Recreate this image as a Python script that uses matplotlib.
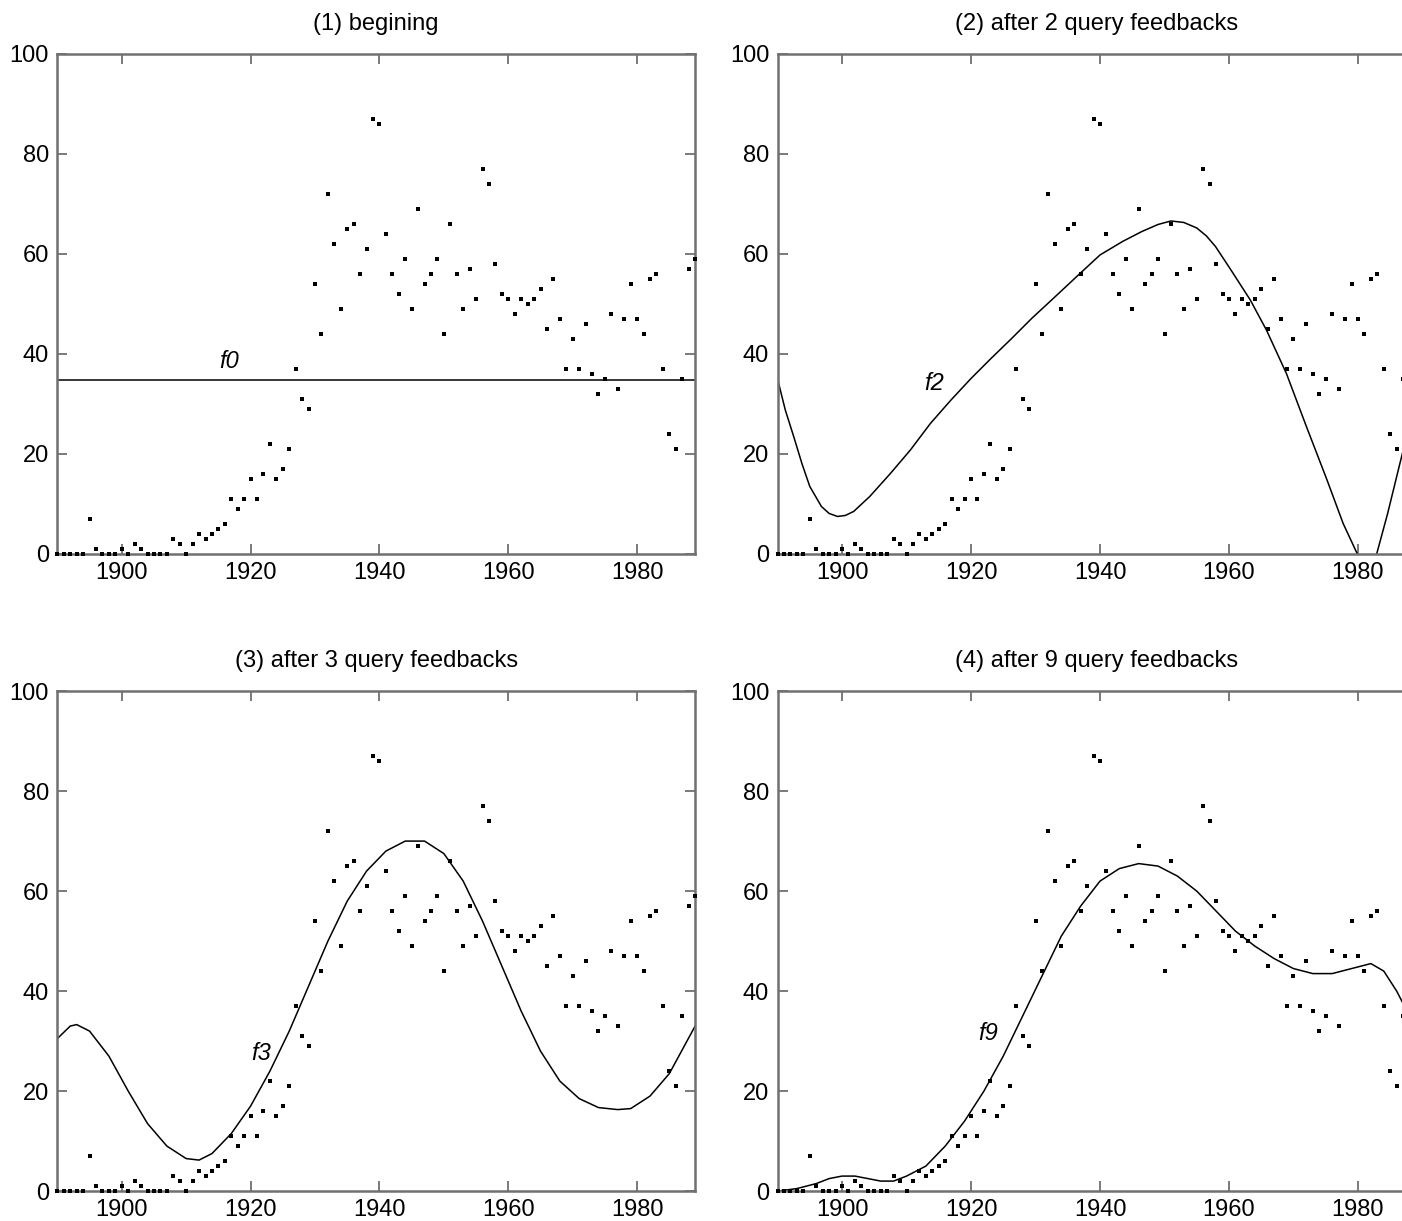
import numpy as np
import matplotlib
matplotlib.use('Agg')
import matplotlib.pyplot as plt

plt.rcParams['font.family'] = ['Liberation Sans', 'DejaVu Sans']

# 观测数据 (1890-1989)
years = list(range(1890, 1990))
values = [0, 0, 0, 0, 0, 7, 1, 0, 0, 0,
          1, 0, 2, 1, 0, 0, 0, 0, 3, 2,
          0, 2, 4, 3, 4, 5, 6, 11, 9, 11,
          15, 11, 16, 22, 15, 17, 21, 37, 31, 29,
          54, 44, 72, 62, 49, 65, 66, 56, 61, 87,
          86, 64, 56, 52, 59, 49, 69, 54, 56, 59,
          44, 66, 56, 49, 57, 51, 77, 74, 58, 52,
          51, 48, 51, 50, 51, 53, 45, 55, 47, 37,
          43, 37, 46, 36, 32, 35, 48, 33, 47, 54,
          47, 44, 55, 56, 37, 24, 21, 35, 57, 59]

# 估计曲线
f0_level = 34.7

f2_x = [1890, 1891.2, 1892.5, 1893.8, 1895, 1896.8, 1898, 1899.3, 1900.5, 1901.8, 1904.3,
        1907.5, 1910.6, 1913.7, 1916.9, 1920, 1923.1, 1926.3, 1929.4, 1932.5, 1936.9,
        1940, 1943.5, 1946.5, 1949, 1951, 1953, 1955, 1956.5, 1957.9, 1960.1, 1963.3,
        1965.8, 1968.9, 1972, 1975.2, 1977.7, 1979.9, 1981.3,
        1982.9, 1984.6, 1986.5, 1989]
f2_y = [35, 28.8, 23.5, 18, 13.5, 9.5, 8.1, 7.5, 7.7, 8.5, 11.5,
        16.1, 20.8, 26.1, 30.8, 35.1, 39.1, 43.1, 47.1, 50.8, 56.1,
        59.8, 62.5, 64.5, 65.9, 66.6, 66.3, 65.2, 63.6, 61.5, 57.2, 50.8,
        44.8, 36.1, 25.5, 14.8, 6.1, 0, -2.5,
        0, 8.1, 18.1, 31]

f3_x = [1890, 1892, 1893, 1895, 1898, 1901, 1904, 1907, 1910, 1912, 1914, 1917, 1920,
        1923, 1926, 1929, 1932, 1935, 1938, 1941, 1944, 1947, 1950, 1953, 1956, 1959,
        1962, 1965, 1968, 1971, 1974, 1977, 1979, 1982, 1985, 1989]
f3_y = [30.5, 33, 33.3, 32, 27, 20, 13.5, 9, 6.5, 6.2, 7.5, 11.5, 17,
        24, 32, 41, 50, 58, 64, 68, 70, 70, 67.5, 62, 54, 45,
        36, 28, 22, 18.5, 16.7, 16.3, 16.5, 19, 23.5, 33]

f9_x = [1890, 1893, 1896, 1898, 1900, 1902, 1904, 1906, 1908, 1910, 1913, 1916, 1919,
        1922, 1925, 1928, 1931, 1934, 1937, 1940, 1943, 1946, 1949, 1952, 1955, 1958,
        1961, 1964, 1967, 1970, 1973, 1976, 1979, 1982, 1984, 1986, 1987, 1989]
f9_y = [0, 0.5, 1.5, 2.5, 3, 3, 2.5, 2, 2, 3, 5, 9, 14,
        20, 27, 35, 43, 51, 57, 62, 64.5, 65.5, 65, 63, 60, 56,
        52, 49, 46.5, 44.5, 43.5, 43.5, 44.5, 45.5, 44, 40, 37.5, 32]

titles = ['(1) begining', '(2) after 2 query feedbacks',
          '(3) after 3 query feedbacks', '(4) after 9 query feedbacks']

fig = plt.figure(figsize=(14.02, 12.21), dpi=100)
positions = [[0.0409, 0.5463, 0.4549, 0.4095],
             [0.5546, 0.5463, 0.4554, 0.4095],
             [0.0409, 0.0245, 0.4549, 0.4095],
             [0.5546, 0.0245, 0.4554, 0.4095]]

curves = [([1890, 1989], [f0_level, f0_level], 'f0', (1916.6, 38.5)),
          (f2_x, f2_y, 'f2', (1914.3, 34)),
          (f3_x, f3_y, 'f3', (1921.7, 27.5)),
          (f9_x, f9_y, 'f9', (1922.6, 31.5))]

for i in range(4):
    ax = fig.add_axes(positions[i])
    cx, cy, name, pos = curves[i]
    ax.plot(cx, cy, color='k', lw=1.1)
    ax.plot(years, values, 's', color='k', ms=2.7, mew=0, clip_on=False, zorder=5)
    ax.text(pos[0], pos[1], name, style='italic', fontsize=17, ha='center', va='center')
    ax.set_xlim(1890, 1989)
    ax.set_ylim(0, 100)
    ax.set_xticks([1900, 1920, 1940, 1960, 1980])
    ax.set_yticks([0, 20, 40, 60, 80, 100])
    ax.tick_params(direction='in', length=7, width=1.3, color='#707070',
                   top=True, right=True, labelsize=17, pad=6)
    for s in ax.spines.values():
        s.set_color('#707070')
        s.set_linewidth(1.8)
    ax.set_title(titles[i], fontsize=17, pad=17)

fig.savefig('out.png', dpi=100)
